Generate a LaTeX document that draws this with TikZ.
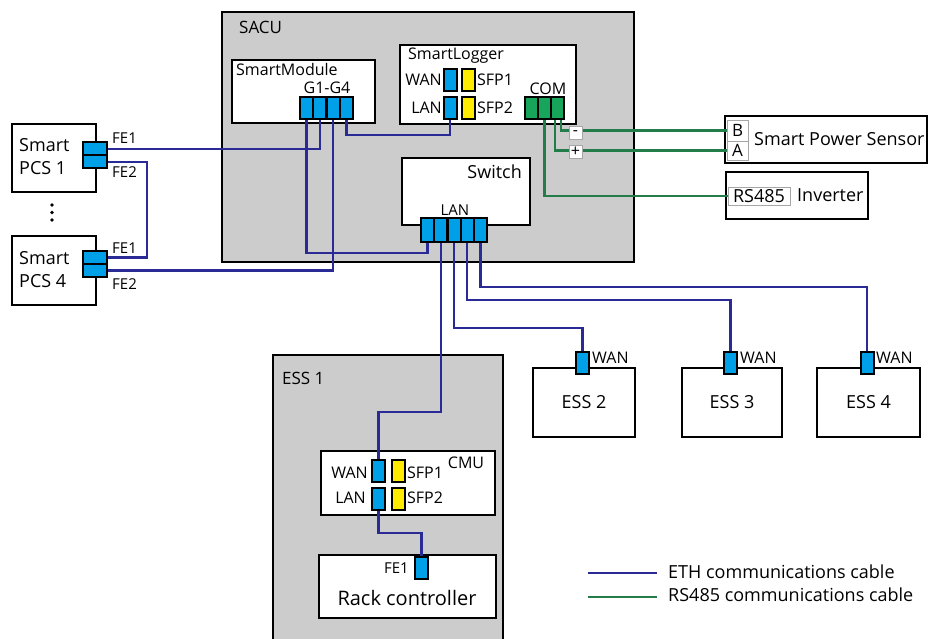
\documentclass[tikz,border=0pt]{standalone}
\usepackage{fontspec}
\setmainfont{Open Sans}
\usetikzlibrary{calc}
\definecolor{ethblue}{RGB}{42,42,150}
\definecolor{rsgreen}{RGB}{35,125,75}
\definecolor{portblue}{RGB}{0,160,233}
\definecolor{portyellow}{RGB}{255,235,0}
\definecolor{portgreen}{RGB}{22,165,90}
\definecolor{sacugray}{RGB}{204,204,204}
\pgfdeclarelayer{bg}
\pgfdeclarelayer{wires}
\pgfsetlayers{bg,wires,main}
\begin{document}
\begin{tikzpicture}[x=1pt,y=-1pt,
  box/.style={draw=black, line width=2.2pt, fill=white, inner sep=0pt, outer sep=0pt},
  gbox/.style={box, line width=2.5pt, fill=sacugray},
  port/.style={draw=black, line width=2pt, inner sep=0pt, outer sep=0pt, minimum width=13pt, minimum height=22pt},
  bport/.style={port, fill=portblue},
  yport/.style={port, fill=portyellow},
  gport/.style={port, fill=portgreen},
  pcsport/.style={bport, minimum width=24pt, minimum height=13pt},
  eth/.style={draw=ethblue, line width=2.3pt},
  rs/.style={draw=rsgreen, line width=2.3pt},
  big/.style={inner sep=0pt, font=\fontsize{18}{23}\selectfont},
  mid/.style={inner sep=0pt, font=\fontsize{16}{18}\selectfont},
  small/.style={inner sep=0pt, font=\fontsize{15}{17}\selectfont},
  tag/.style={draw=gray!70, line width=0.8pt, fill=white, inner sep=0pt, outer sep=0pt},
  dotmark/.style={fill=black}
]
\useasboundingbox (0,0) rectangle (929,639);

% ---------- boxes ----------
\begin{pgfonlayer}{bg}
\node[gbox, minimum width=412pt, minimum height=250pt] (sacu) at (428,137) {};
\node[box, minimum width=143pt, minimum height=63pt] (smod) at (303.5,91.5) {};
\node[box, minimum width=176pt, minimum height=79pt] (slog) at (488,84.5) {};
\node[box, minimum width=128pt, minimum height=67pt] (swt) at (466,191.5) {};
\node[box, minimum width=84pt, minimum height=68pt] (pcs1) at (54,158) {};
\node[box, minimum width=84pt, minimum height=69pt] (pcs4) at (54,270.5) {};
\node[gbox, minimum width=230pt, minimum height=305pt] (ess1) at (388,507.5) {};
\node[box, minimum width=174pt, minimum height=64pt] (cmu) at (408,483) {};
\node[box, minimum width=177pt, minimum height=63pt] (rack) at (407.5,586.5) {};
\node[box, minimum width=102pt, minimum height=69pt, font=\fontsize{18}{20}\selectfont] (ess2) at (584,402.5) {ESS 2};
\node[box, minimum width=100pt, minimum height=69pt, font=\fontsize{18}{20}\selectfont] (ess3) at (732,402.5) {ESS 3};
\node[box, minimum width=103pt, minimum height=69pt, font=\fontsize{18}{20}\selectfont] (ess4) at (868.5,402.5) {ESS 4};
\node[box, minimum width=202pt, minimum height=47pt] (sps) at (826,139.5) {};
\node[box, minimum width=142pt, minimum height=47pt] (inv) at (797,195.5) {};
\end{pgfonlayer}

% ---------- ports ----------
\node[bport] (sm1) at (306.6,108) {};
\node[bport] (sm2) at (319.9,108) {};
\node[bport] (sm3) at (333.1,108) {};
\node[bport] (sm4) at (346.4,108) {};

\node[bport] (slw) at (450,80) {};
\node[yport] (sls1) at (468.5,80) {};
\node[bport] (sll) at (450,108) {};
\node[yport] (sls2) at (468.5,108) {};

\node[gport] (com1) at (531.5,108) {};
\node[gport] (com2) at (544.5,108) {};
\node[gport] (com3) at (557.5,108) {};

\node[bport, minimum height=24pt] (sw1) at (427.6,230) {};
\node[bport, minimum height=24pt] (sw2) at (440.8,230) {};
\node[bport, minimum height=24pt] (sw3) at (454.0,230) {};
\node[bport, minimum height=24pt] (sw4) at (467.2,230) {};
\node[bport, minimum height=24pt] (sw5) at (480.4,230) {};

\node[pcsport] (p1a) at (95,149) {};
\node[pcsport] (p1b) at (95,162) {};
\node[pcsport] (p4a) at (95,257.5) {};
\node[pcsport] (p4b) at (95,270.5) {};

\node[bport] (cw) at (378.5,471) {};
\node[yport] (cs1) at (398.5,471) {};
\node[bport] (cl) at (378.5,499) {};
\node[yport] (cs2) at (398.5,499) {};

\node[bport] (rfe) at (421.5,568) {};

\node[bport] (e2w) at (582.5,363) {};
\node[bport] (e3w) at (730.5,363) {};
\node[bport] (e4w) at (867,363) {};

\node[tag, minimum width=21pt, minimum height=21pt, font=\fontsize{17}{19}\selectfont] (pb) at (737.5,130.5) {B};
\node[tag, minimum width=21pt, minimum height=19pt, font=\fontsize{17}{19}\selectfont] (pa) at (737.5,150.5) {A};
\node[tag, minimum width=62pt, minimum height=18pt, font=\fontsize{18}{20}\selectfont] (rs485) at (759,196) {RS485};

% ---------- wires ----------
\begin{pgfonlayer}{wires}
\draw[eth] (p1a.east) -| (sm2.south);
\draw[eth] (p1b.east) -- ++(40,0) |- (p4a.east);
\draw[eth] (p4b.east) -| (sm3.south);
\draw[eth] (sm1.south) -- ++(0,134) -| (sw1.south);
\draw[eth] (sm4.south) -- ++(0,16) -| (sll.south);
\draw[eth] (sw2.south) -- ++(0,170) -| (cw.north);
\draw[eth] (sw3.south) -- ++(0,86) -| (e2w.north);
\draw[eth] (sw4.south) -- ++(0,58) -| (e3w.north);
\draw[eth] (sw5.south) -- ++(0,45) -| (e4w.north);
\draw[eth] (cl.south) -- ++(0,23) -| (rfe.north);
\draw[rs] ([xshift=3.5pt]com3.south) |- (pb.west);
\draw[rs] ([xshift=-2.5pt]com3.south) |- (pa.west);
\draw[rs] (com2.south) |- (rs485.west);
\end{pgfonlayer}

% ---------- +/- tags ----------
\node[tag, minimum width=13pt, minimum height=13pt, font=\fontsize{16}{16}\selectfont] (tminus) at (575.5,133) {-};
\node[tag, minimum width=13pt, minimum height=13pt, font=\fontsize{16}{16}\selectfont] (tplus) at (575.5,151.5) {+};

% ---------- labels ----------
\node[mid, font=\fontsize{17}{19}\selectfont, anchor=west] (lsacu) at (239,27) {SACU};
\node[mid, anchor=west] (lsmod) at (236,70) {SmartModule};
\node[mid] (lg) at (327,88) {G1-G4};
\node[mid, anchor=west] (lslog) at (408,56) {SmartLogger};
\node[mid, anchor=east] (lslw) at (442,80) {WAN};
\node[mid, anchor=west] (lsls1) at (477,80) {SFP1};
\node[mid, anchor=east] (lsll) at (442,108) {LAN};
\node[mid, anchor=west] (lsls2) at (477,108) {SFP2};
\node[mid] (lcom) at (548,89) {COM};
\node[big, anchor=east] (lswt) at (522,172) {Switch};
\node[small] (lswl) at (455,210) {LAN};

\node[big, align=left, anchor=west] (lpcs1) at (19,157) {Smart\\PCS 1};
\node[big, align=left, anchor=west] (lpcs4) at (19,270) {Smart\\PCS 4};
\node[small, anchor=west] (lf11) at (112,138) {FE1};
\node[small, anchor=west] (lf12) at (112,172) {FE2};
\node[small, anchor=west] (lf41) at (112,248) {FE1};
\node[small, anchor=west] (lf42) at (112,284) {FE2};
\fill[dotmark] (52,205) circle[radius=1.8pt];
\fill[dotmark] (52,212.5) circle[radius=1.8pt];
\fill[dotmark] (52,220) circle[radius=1.8pt];

\node[big, font=\fontsize{17}{19}\selectfont, anchor=west] (less1) at (282,378) {ESS 1};
\node[mid] (lcmu) at (466,463) {CMU};
\node[mid, anchor=east] (lcw) at (368,473) {WAN};
\node[mid, anchor=west] (lcs1) at (407,473) {SFP1};
\node[mid, anchor=east] (lcl) at (366,498) {LAN};
\node[mid, anchor=west] (lcs2) at (407,498) {SFP2};
\node[small, anchor=east] (lrfe) at (409,568) {FE1};
\node[inner sep=0pt, font=\fontsize{20}{22}\selectfont] (lrack) at (407,598) {Rack controller};

\node[mid, anchor=west] (le2w) at (592,358) {WAN};
\node[mid, anchor=west] (le3w) at (740,358) {WAN};
\node[mid, anchor=west] (le4w) at (876,358) {WAN};

\node[big, anchor=west] (lsps) at (754,139) {Smart Power Sensor};
\node[big, anchor=west] (linv) at (797,195) {Inverter};

% ---------- legend ----------
\coordinate (leg1a) at (588,573);
\coordinate (leg1b) at (657,573);
\coordinate (leg2a) at (588,597);
\coordinate (leg2b) at (657,597);
\draw[eth] (leg1a) -- (leg1b);
\draw[rs] (leg2a) -- (leg2b);
\node[big, anchor=west] (lleg1) at (668,572) {ETH communications cable};
\node[big, anchor=west] (lleg2) at (668,595) {RS485 communications cable};
\end{tikzpicture}
\end{document}
